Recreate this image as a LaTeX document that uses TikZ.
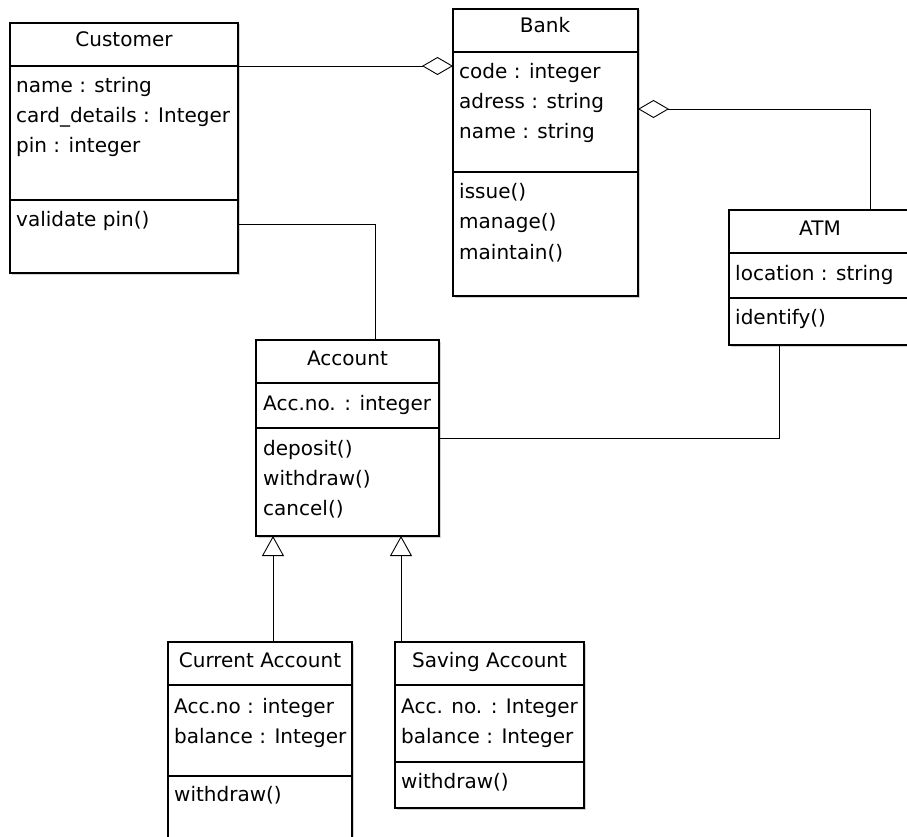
\documentclass[tikz,border=0pt]{standalone}
\usepackage{fontspec}
\setmainfont{DejaVu Sans}
\usetikzlibrary{arrows.meta,shadows}
\tikzset{
  classbox/.style={draw, line width=1.1pt, fill=white, outer sep=0pt, inner sep=0pt,
    anchor=north west, drop shadow={shadow xshift=1.5pt, shadow yshift=-1.5pt, opacity=0.35}},
  ctitle/.style={anchor=base, inner sep=0pt, font=\fontsize{20}{24}\selectfont},
  member/.style={anchor=base west, inner sep=0pt, font=\fontsize{20}{24}\selectfont},
  sep/.style={line width=1.1pt},
  assoc/.style={line width=0.9pt},
  aggr/.tip={Diamond[open, length=31pt, width=18pt]},
  inherit/.tip={Triangle[open, length=20pt, width=22pt]}
}
\begin{document}
\begin{tikzpicture}[x=1pt, y=-1pt]
\useasboundingbox (0,0) rectangle (907,837);
\clip (0,0) rectangle (907,837);

% Customer
\node[classbox, minimum width=228, minimum height=250] (customer) at (10,23) {};
\draw[sep] (10,66) -- (238,66);
\draw[sep] (10,200) -- (238,200);
\node[ctitle] (customer-t) at (124,47) {Customer};
\node[member] (customer-a1) at (16,93) {name : string};
\node[member] (customer-a2) at (16,123) {card\_details : Integer};
\node[member] (customer-a3) at (16,153) {pin : integer};
\node[member] (customer-m1) at (16,226) {validate pin()};

% Bank
\node[classbox, minimum width=185, minimum height=287] (bank) at (453,9) {};
\draw[sep] (453,52) -- (638,52);
\draw[sep] (453,172) -- (638,172);
\node[ctitle] (bank-t) at (545,33) {Bank};
\node[member] (bank-a1) at (459,79) {code : integer};
\node[member] (bank-a2) at (459,109) {adress : string};
\node[member] (bank-a3) at (459,139) {name : string};
\node[member] (bank-m1) at (459,199) {issue()};
\node[member] (bank-m2) at (459,229) {manage()};
\node[member] (bank-m3) at (459,259) {maintain()};

% ATM
\node[classbox, minimum width=182, minimum height=135] (atm) at (729,210) {};
\draw[sep] (729,253) -- (911,253);
\draw[sep] (729,298) -- (911,298);
\node[ctitle] (atm-t) at (820,235) {ATM};
\node[member] (atm-a1) at (735,280) {location : string};
\node[member] (atm-m1) at (735,324) {identify()};

% Account
\node[classbox, minimum width=183, minimum height=196] (account) at (256,340) {};
\draw[sep] (256,383) -- (439,383);
\draw[sep] (256,428) -- (439,428);
\node[ctitle] (account-t) at (347.5,365) {Account};
\node[member] (account-a1) at (263,410) {Acc.no. : integer};
\node[member] (account-m1) at (263,455) {deposit()};
\node[member] (account-m2) at (263,485) {withdraw()};
\node[member] (account-m3) at (263,515) {cancel()};

% Current Account
\node[classbox, minimum width=184, minimum height=220] (current) at (168,642) {};
\draw[sep] (168,685) -- (352,685);
\draw[sep] (168,776) -- (352,776);
\node[ctitle] (current-t) at (260,667) {Current Account};
\node[member] (current-a1) at (174,713) {Acc.no : integer};
\node[member] (current-a2) at (174,743) {balance : Integer};
\node[member] (current-m1) at (174,801) {withdraw()};

% Saving Account
\node[classbox, minimum width=189, minimum height=166] (saving) at (395,642) {};
\draw[sep] (395,685) -- (584,685);
\draw[sep] (395,762) -- (584,762);
\node[ctitle] (saving-t) at (489.5,667) {Saving Account};
\node[member] (saving-a1) at (401,713) {Acc. no. : Integer};
\node[member] (saving-a2) at (401,743) {balance : Integer};
\node[member] (saving-m1) at (401,788) {withdraw()};

% connectors
\coordinate (cb) at (0,66);
\coordinate (ba) at (870,109);
\coordinate (ca) at (375,224);
\coordinate (aa) at (779,438);
\coordinate (xcur) at (273,0);
\coordinate (xsav) at (401,0);
\draw[assoc, -aggr] (customer.east |- cb) -- (bank.west |- cb);
\draw[assoc, aggr-] (bank.east |- ba) -| (atm.north -| ba);
\draw[assoc] (customer.east |- ca) -| (account.north -| ca);
\draw[assoc] (atm.south -| aa) |- (account.east |- aa);
\draw[assoc, -inherit] (current.north -| xcur) -- (account.south -| xcur);
\draw[assoc, -inherit] (saving.north -| xsav) -- (account.south -| xsav);
\end{tikzpicture}
\end{document}
